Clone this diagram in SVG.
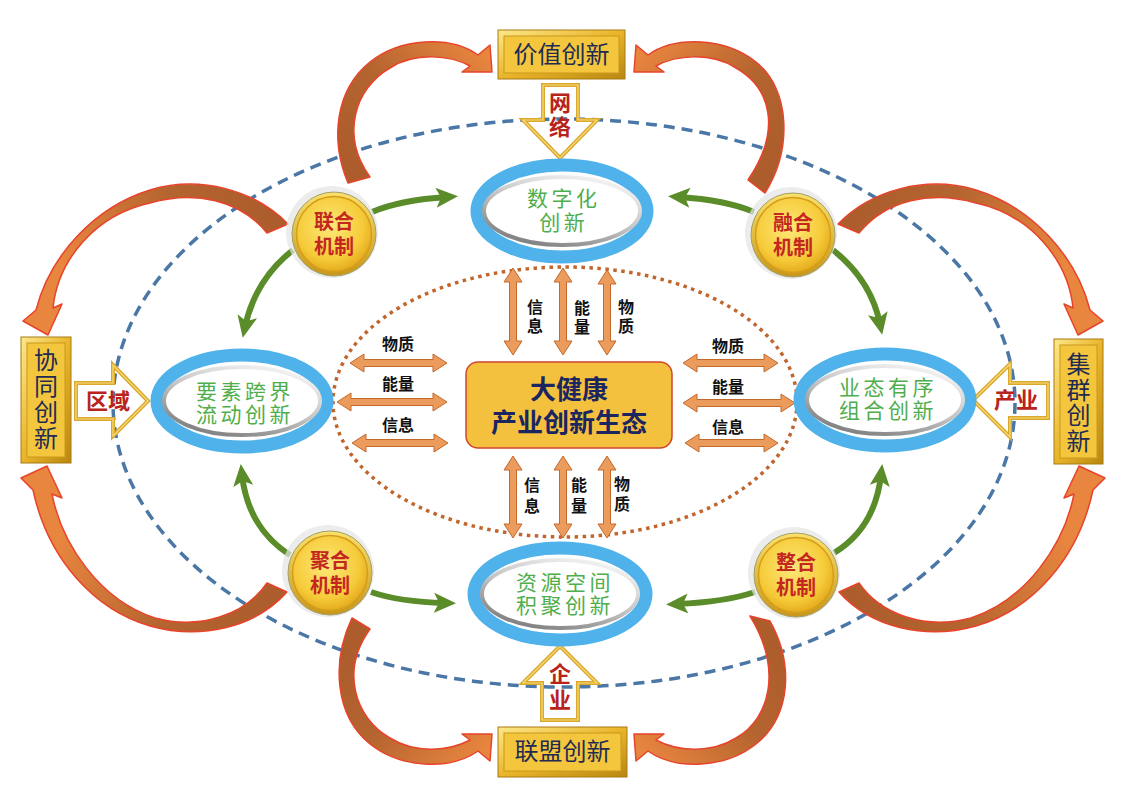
<svg xmlns="http://www.w3.org/2000/svg" width="1126" height="802" viewBox="0 0 1126 802">
<defs>
<style>
.cjk{font-family:"Noto Sans CJK SC","Noto Sans CJK TC",sans-serif}
.box{fill:#1f2b52;font-size:24px}
.node{fill:#4fae4c;font-size:21px;letter-spacing:3.5px}
.mech{fill:#c3271f;font-size:20px;font-weight:bold}
.flow{fill:#111;font-size:16px;font-weight:bold}
.tag{fill:#b8231c;font-size:22px;font-weight:bold}
.core{fill:#1b2560;font-size:26px;font-weight:bold}
.vt{writing-mode:vertical-rl;text-orientation:upright}
.dbl{fill:#eb9b5c;stroke:#c4692a;stroke-width:1;stroke-linejoin:round}
.garr{fill:none;stroke:#5b8c2a;stroke-width:6;marker-end:url(#gm)}
.orr{stroke:#e8432b;stroke-width:1.5;stroke-linejoin:round}
.hollow{fill:none;stroke:#d9a82c;stroke-width:4}
.hollow2{fill:none;stroke:#f8dc7a;stroke-width:1.2}
.boxo{fill:url(#bevel);stroke:#a87b12;stroke-width:1}
.boxi{fill:#f3c63d;stroke:#c9981e;stroke-width:1}
.ring{fill:#fff;stroke:#4fb2ea;stroke-width:13}
.rim{fill:#fff;stroke:url(#rimg);stroke-width:4}
</style>
<marker id="gm" viewBox="0 0 22 22" markerWidth="22" markerHeight="22" refX="11" refY="11" orient="auto" markerUnits="userSpaceOnUse"><path d="M0,1 L22,11 L0,21 L5,11 Z" fill="#5b8c2a"/></marker>
<linearGradient id="bevel" x1="0" y1="0" x2="1" y2="1"><stop offset="0" stop-color="#fce88a"/><stop offset="0.5" stop-color="#eab52b"/><stop offset="1" stop-color="#b8870f"/></linearGradient>
<linearGradient id="rimg" x1="0.8" y1="0" x2="0.2" y2="1"><stop offset="0" stop-color="#f6f6f6"/><stop offset="0.5" stop-color="#c4c4c4"/><stop offset="1" stop-color="#7a7a7a"/></linearGradient>
<radialGradient id="coinFace" cx="0.45" cy="0.4" r="0.62"><stop offset="0" stop-color="#fde879"/><stop offset="0.7" stop-color="#f6cb3a"/><stop offset="1" stop-color="#e3a91c"/></radialGradient>
<linearGradient id="coinRim" x1="0" y1="0" x2="0" y2="1"><stop offset="0" stop-color="#fbe06a"/><stop offset="1" stop-color="#c8961a"/></linearGradient>
<linearGradient id="g1" gradientUnits="userSpaceOnUse" x1="355" y1="170" x2="485" y2="55"><stop offset="0" stop-color="#ad5d2c"/><stop offset="0.45" stop-color="#b4642f"/><stop offset="1" stop-color="#e8853f"/></linearGradient>
<linearGradient id="g3" gradientUnits="userSpaceOnUse" x1="765" y1="175" x2="640" y2="55"><stop offset="0" stop-color="#ad5d2c"/><stop offset="0.45" stop-color="#b4642f"/><stop offset="1" stop-color="#e8853f"/></linearGradient>
<linearGradient id="g2" gradientUnits="userSpaceOnUse" x1="280" y1="228" x2="45" y2="320"><stop offset="0" stop-color="#ad5d2c"/><stop offset="0.35" stop-color="#b4642f"/><stop offset="0.85" stop-color="#e8853f"/></linearGradient>
<linearGradient id="g4" gradientUnits="userSpaceOnUse" x1="846" y1="228" x2="1081" y2="320"><stop offset="0" stop-color="#ad5d2c"/><stop offset="0.35" stop-color="#b4642f"/><stop offset="0.85" stop-color="#e8853f"/></linearGradient>
<linearGradient id="g5" gradientUnits="userSpaceOnUse" x1="280" y1="590" x2="45" y2="480"><stop offset="0" stop-color="#ad5d2c"/><stop offset="0.35" stop-color="#b4642f"/><stop offset="0.85" stop-color="#e8853f"/></linearGradient>
<linearGradient id="g8" gradientUnits="userSpaceOnUse" x1="846" y1="590" x2="1081" y2="480"><stop offset="0" stop-color="#ad5d2c"/><stop offset="0.35" stop-color="#b4642f"/><stop offset="0.85" stop-color="#e8853f"/></linearGradient>
<linearGradient id="g6" gradientUnits="userSpaceOnUse" x1="355" y1="636" x2="485" y2="751"><stop offset="0" stop-color="#ad5d2c"/><stop offset="0.45" stop-color="#b4642f"/><stop offset="1" stop-color="#e8853f"/></linearGradient>
<linearGradient id="g7" gradientUnits="userSpaceOnUse" x1="765" y1="630" x2="640" y2="751"><stop offset="0" stop-color="#ad5d2c"/><stop offset="0.45" stop-color="#b4642f"/><stop offset="1" stop-color="#e8853f"/></linearGradient>
</defs>
<rect width="1126" height="802" fill="#fff"/>

<g id="frames">
<ellipse cx="564" cy="403" rx="451" ry="284" fill="none" stroke="#4a77a6" stroke-width="3.5" stroke-dasharray="11 7"/>
<ellipse cx="565" cy="402" rx="232" ry="135" fill="none" stroke="#c0652b" stroke-width="3.5" stroke-dasharray="3.5 4.5"/>
</g>

<g id="connectors">
<path class="orr" fill="url(#g1)" d="M348,183 C330,140 335,90 370,62 C400,38 450,35 478,55 L490,45 L492,72 L462,72 L470,66 C450,55 415,52 390,68 C355,88 340,135 370,177 Z"/>
<path class="orr" fill="url(#g3)" d="M765,193 C792,150 791,90 756,62 C726,38 676,35 648,55 L636,45 L634,72 L664,72 L656,66 C676,55 711,52 736,68 C771,88 782,130 748,180 Z"/>
<path class="orr" fill="url(#g2)" d="M288,224 C255,190 200,175 150,190 C95,207 50,255 36,310 L23,321 L48,335 L62,304 L53,308 C58,260 95,215 150,203 C195,190 240,200 267,233 Z"/>
<path class="orr" fill="url(#g4)" d="M838,224 C871,190 926,175 976,190 C1031,207 1076,255 1090,310 L1103,321 L1078,335 L1064,304 L1073,308 C1068,260 1031,215 976,203 C931,190 886,200 859,233 Z"/>
<path class="orr" fill="url(#g5)" d="M287,592 C255,628 200,640 150,626 C95,610 48,560 33,490 L21,478 L47,466 L62,498 L52,494 C62,545 100,600 155,618 C200,630 245,615 267,583 Z"/>
<path class="orr" fill="url(#g8)" d="M839,592 C871,628 926,640 976,626 C1031,610 1078,560 1093,490 L1105,478 L1079,466 L1064,498 L1074,494 C1064,545 1026,600 971,618 C926,630 881,615 859,583 Z"/>
<path class="orr" fill="url(#g6)" d="M352,618 C331,662 335,716 370,744 C400,768 450,771 478,751 L490,761 L492,734 L462,734 L470,740 C450,751 415,754 390,738 C355,718 340,671 370,629 Z"/>
<path class="orr" fill="url(#g7)" d="M770,621 C794,664 791,716 756,744 C726,768 676,771 648,751 L636,761 L634,734 L664,734 L656,740 C676,751 711,754 736,738 C771,718 782,668 750,616 Z"/>
<path class="garr" d="M372,212 Q400,200 447,197"/>
<path class="garr" d="M293,250 Q255,280 245,327"/>
<path class="garr" d="M754,212 Q726,200 679,197"/>
<path class="garr" d="M833,250 Q871,280 880,324"/>
<path class="garr" d="M290,555 Q248,528 242,475"/>
<path class="garr" d="M371,592 Q400,602 445,603"/>
<path class="garr" d="M834,553 Q875,528 881,475"/>
<path class="garr" d="M755,592 Q725,602 677,604"/>
<polygon class="dbl" points="350,363 364,354 364,359.5 433,359.5 433,354 447,363 433,372 433,366.5 364,366.5 364,372"/>
<polygon class="dbl" points="337,402 351,393 351,398.5 433,398.5 433,393 447,402 433,411 433,405.5 351,405.5 351,411"/>
<polygon class="dbl" points="352,443 366,434 366,439.5 434,439.5 434,434 448,443 434,452 434,446.5 366,446.5 366,452"/>
<polygon class="dbl" points="683,363 697,354 697,359.5 764,359.5 764,354 778,363 764,372 764,366.5 697,366.5 697,372"/>
<polygon class="dbl" points="683,403 697,394 697,399.5 781,399.5 781,394 795,403 781,412 781,406.5 697,406.5 697,412"/>
<polygon class="dbl" points="685,443 699,434 699,439.5 764,439.5 764,434 778,443 764,452 764,446.5 699,446.5 699,452"/>
<polygon class="dbl" points="513,268 522,282 516.5,282 516.5,341 522,341 513,355 504,341 509.5,341 509.5,282 504,282"/>
<polygon class="dbl" points="563,268 572,282 566.5,282 566.5,341 572,341 563,355 554,341 559.5,341 559.5,282 554,282"/>
<polygon class="dbl" points="607,270 616,284 610.5,284 610.5,341 616,341 607,355 598,341 603.5,341 603.5,284 598,284"/>
<polygon class="dbl" points="513,456 522,470 516.5,470 516.5,524 522,524 513,538 504,524 509.5,524 509.5,470 504,470"/>
<polygon class="dbl" points="563,456 572,470 566.5,470 566.5,524 572,524 563,538 554,524 559.5,524 559.5,470 554,470"/>
<polygon class="dbl" points="607,456 616,470 610.5,470 610.5,524 616,524 607,538 598,524 603.5,524 603.5,470 598,470"/>
</g>

<g id="flow-labels" class="cjk flow">
<text x="398" y="350" text-anchor="middle">物质</text>
<text x="398" y="390" text-anchor="middle">能量</text>
<text x="398" y="431" text-anchor="middle">信息</text>
<text x="728" y="352" text-anchor="middle">物质</text>
<text x="728" y="393" text-anchor="middle">能量</text>
<text x="728" y="433" text-anchor="middle">信息</text>
<text class="vt" x="535" y="299" style="letter-spacing:3px">信息</text>
<text class="vt" x="582" y="300" style="letter-spacing:3px">能量</text>
<text class="vt" x="626" y="299" style="letter-spacing:3px">物质</text>
<text class="vt" x="532" y="477" style="letter-spacing:5px">信息</text>
<text class="vt" x="579" y="477" style="letter-spacing:5px">能量</text>
<text class="vt" x="622" y="476" style="letter-spacing:4px">物质</text>
</g>

<g id="arrow-wangluo">
<polygon class="hollow" points="543,85 578,85 578,120 597,120 560,158 523,120 543,120"/>
<polygon class="hollow2" points="543,85 578,85 578,120 597,120 560,158 523,120 543,120"/>
<text class="cjk tag vt" x="560" y="92" style="letter-spacing:2px">网络</text>
</g>
<g id="arrow-quyu">
<polygon class="hollow" points="76,383 113,383 113,365 148,401 113,436 113,419 76,419"/>
<polygon class="hollow2" points="76,383 113,383 113,365 148,401 113,436 113,419 76,419"/>
<text class="cjk tag" x="108" y="409" text-anchor="middle">区域</text>
</g>
<g id="arrow-chanye">
<polygon class="hollow" points="1048,383 1010,383 1010,364 973,400 1010,437 1010,418 1048,418"/>
<polygon class="hollow2" points="1048,383 1010,383 1010,364 973,400 1010,437 1010,418 1048,418"/>
<text class="cjk tag" x="1016" y="408" text-anchor="middle">产业</text>
</g>
<g id="arrow-qiye">
<polygon class="hollow" points="542,720 578,720 578,683 597,683 560,646 523,683 542,683"/>
<polygon class="hollow2" points="542,720 578,720 578,683 597,683 560,646 523,683 542,683"/>
<text class="cjk tag vt" x="560" y="663" style="letter-spacing:4px">企业</text>
</g>

<g id="box-jiazhi">
<rect class="boxo" x="498" y="30" width="127" height="49"/>
<rect class="boxi" x="504" y="36" width="115" height="37"/>
<text class="cjk box" x="561.5" y="63" text-anchor="middle">价值创新</text>
</g>
<g id="box-xietong">
<rect class="boxo" x="21" y="337" width="50" height="126"/>
<rect class="boxi" x="27" y="343" width="38" height="114"/>
<text class="cjk box vt" x="46" y="348" style="letter-spacing:2px">协同创新</text>
</g>
<g id="box-jiqun">
<rect class="boxo" x="1054" y="339" width="49" height="125"/>
<rect class="boxi" x="1060" y="345" width="37" height="113"/>
<text class="cjk box vt" x="1078.5" y="352" style="letter-spacing:1.5px">集群创新</text>
</g>
<g id="box-lianmeng">
<rect class="boxo" x="498" y="727" width="129" height="50"/>
<rect class="boxi" x="504" y="733" width="117" height="38"/>
<text class="cjk box" x="562.5" y="760" text-anchor="middle">联盟创新</text>
</g>

<g id="node-shuzihua" transform="translate(562,211)">
<ellipse class="ring" rx="85" ry="46"/>
<ellipse class="rim" rx="78" ry="34"/>
<text class="cjk node" text-anchor="middle"><tspan x="1.75" y="-5">数字化</tspan><tspan x="1.75" y="19">创新</tspan></text>
</g>
<g id="node-yaosu" transform="translate(242,401)">
<ellipse class="ring" rx="85" ry="46"/>
<ellipse class="rim" rx="78" ry="34"/>
<text class="cjk node" text-anchor="middle"><tspan x="3" y="-2">要素跨界</tspan><tspan x="3" y="21">流动创新</tspan></text>
</g>
<g id="node-yetai" transform="translate(885,400)">
<ellipse class="ring" rx="85" ry="46"/>
<ellipse class="rim" rx="78" ry="34"/>
<text class="cjk node" text-anchor="middle"><tspan x="3" y="-5">业态有序</tspan><tspan x="3" y="18">组合创新</tspan></text>
</g>
<g id="node-ziyuan" transform="translate(560,594)">
<ellipse class="ring" rx="86" ry="46"/>
<ellipse class="rim" rx="78" ry="34"/>
<text class="cjk node" text-anchor="middle"><tspan x="5" y="-4">资源空间</tspan><tspan x="5" y="19">积聚创新</tspan></text>
</g>

<g id="core">
<rect x="466" y="362" width="206" height="86" rx="12" fill="#f4c13f" stroke="#d0462c" stroke-width="1.5"/>
<text class="cjk core" text-anchor="middle"><tspan x="569" y="399">大健康</tspan><tspan x="569" y="432">产业创新生态</tspan></text>
</g>

<g id="mech-lianhe" transform="translate(334,234)">
<circle cx="-2" cy="-2" r="46" fill="#e4e4e4" opacity="0.7"/>
<circle r="42" fill="url(#coinRim)" stroke="#9fa06a" stroke-width="1"/>
<circle r="37.5" fill="url(#coinFace)" stroke="#d49e1a" stroke-width="1.5"/>
<text class="cjk mech" text-anchor="middle"><tspan x="0" y="-5">联合</tspan><tspan x="0" y="20">机制</tspan></text>
</g>
<g id="mech-ronghe" transform="translate(793,235)">
<circle cx="-2" cy="-2" r="46" fill="#e4e4e4" opacity="0.7"/>
<circle r="42" fill="url(#coinRim)" stroke="#9fa06a" stroke-width="1"/>
<circle r="37.5" fill="url(#coinFace)" stroke="#d49e1a" stroke-width="1.5"/>
<text class="cjk mech" text-anchor="middle"><tspan x="0" y="-5">融合</tspan><tspan x="0" y="20">机制</tspan></text>
</g>
<g id="mech-juhe" transform="translate(330,573)">
<circle cx="-2" cy="-2" r="46" fill="#e4e4e4" opacity="0.7"/>
<circle r="42" fill="url(#coinRim)" stroke="#9fa06a" stroke-width="1"/>
<circle r="37.5" fill="url(#coinFace)" stroke="#d49e1a" stroke-width="1.5"/>
<text class="cjk mech" text-anchor="middle"><tspan x="0" y="-5">聚合</tspan><tspan x="0" y="20">机制</tspan></text>
</g>
<g id="mech-zhenghe" transform="translate(796,575)">
<circle cx="-2" cy="-2" r="46" fill="#e4e4e4" opacity="0.7"/>
<circle r="42" fill="url(#coinRim)" stroke="#9fa06a" stroke-width="1"/>
<circle r="37.5" fill="url(#coinFace)" stroke="#d49e1a" stroke-width="1.5"/>
<text class="cjk mech" text-anchor="middle"><tspan x="0" y="-5">整合</tspan><tspan x="0" y="20">机制</tspan></text>
</g>
</svg>
